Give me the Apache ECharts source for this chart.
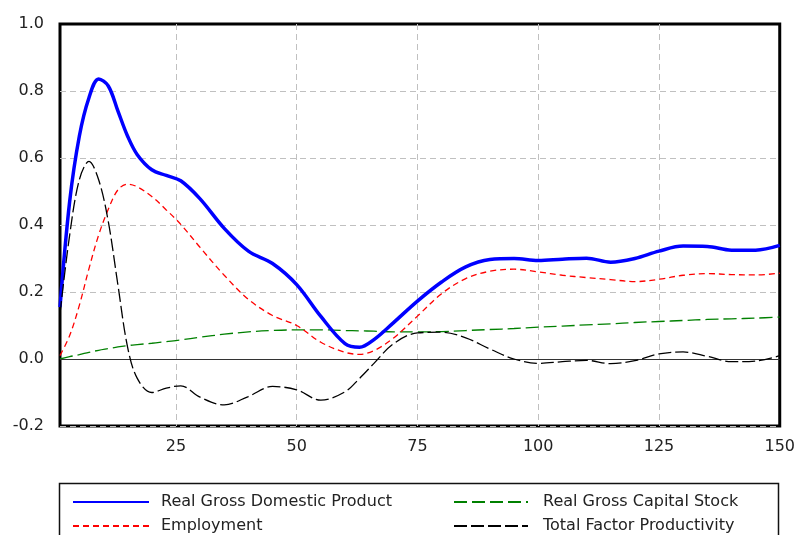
<!DOCTYPE html>
<html>
<head>
<meta charset="utf-8">
<script src="https://cdn.jsdelivr.net/npm/echarts@6/dist/echarts.min.js"></script>
<style>
html,body{margin:0;padding:0;background:#fff;}
#chart{width:798px;height:535px;}
</style>
</head>
<body>
<div id="chart"></div>
<script>
const time = [1,3,5,7,9,11,13,15,17,20,23,26,30,35,40,45,50,55,60,63,66,70,75,80,85,90,95,100,105,110,115,120,125,130,135,140,145,150];
const gdp = [0.155,0.47,0.665,0.78,0.836,0.815,0.74,0.665,0.61,0.565,0.548,0.532,0.478,0.39,0.322,0.285,0.222,0.127,0.046,0.035,0.058,0.108,0.173,0.23,0.275,0.297,0.300,0.294,0.298,0.301,0.289,0.300,0.322,0.337,0.336,0.325,0.325,0.339];
const employment = [0.01,0.07,0.16,0.27,0.37,0.447,0.505,0.522,0.514,0.485,0.445,0.402,0.333,0.25,0.178,0.13,0.1,0.05,0.02,0.014,0.025,0.062,0.128,0.195,0.24,0.262,0.268,0.26,0.25,0.243,0.237,0.231,0.238,0.25,0.255,0.252,0.251,0.256];
const capital = [0,0.007,0.013,0.02,0.026,0.031,0.036,0.04,0.043,0.047,0.052,0.057,0.065,0.074,0.081,0.085,0.087,0.087,0.085,0.084,0.083,0.081,0.081,0.082,0.085,0.088,0.091,0.095,0.098,0.102,0.105,0.109,0.112,0.115,0.118,0.12,0.122,0.125];
const tfp = [0.135,0.37,0.535,0.59,0.535,0.41,0.22,0.035,-0.058,-0.1,-0.087,-0.08,-0.114,-0.137,-0.112,-0.082,-0.092,-0.123,-0.098,-0.058,-0.013,0.045,0.078,0.08,0.063,0.03,0.0,-0.013,-0.008,-0.004,-0.014,-0.005,0.015,0.021,0.008,-0.008,-0.006,0.01];
const xTicks = [25,50,75,100,125,150];
const names = ['Real Gross Domestic Product','Employment','Real Gross Capital Stock','Total Factor Productivity'];

const pairs = arr => time.map((t,i)=>[t, arr[i]]);
const font = 'DejaVu Sans';
const legendItemStyle = {color:'rgba(0,0,0,0)',borderColor:'rgba(0,0,0,0)',borderWidth:0,opacity:0};
const chart = echarts.init(document.getElementById('chart'), null, {renderer:'canvas'});
chart.setOption({
  animation:false,
  backgroundColor:'#fff',
  grid:{left:60,right:18,top:24,bottom:109,show:true,borderColor:'#000',borderWidth:3,backgroundColor:'transparent'},
  xAxis:{
    type:'value',min:1,max:150,
    axisLine:{show:false},
    axisTick:{show:false,customValues:xTicks},
    axisLabel:{customValues:xTicks,fontFamily:font,fontSize:16,color:'#222',margin:13},
    splitLine:{show:true,showMaxLine:false,lineStyle:{color:'#c0c0c0',type:[6,4],width:1}}
  },
  yAxis:{
    type:'value',min:-0.2,max:1.0,interval:0.2,
    axisLine:{show:false},axisTick:{show:false},
    axisLabel:{fontFamily:font,fontSize:16,color:'#222',margin:16,formatter:v=>v.toFixed(1)},
    splitLine:{show:true,showMaxLine:false,lineStyle:{color:'#c0c0c0',type:[6,4],width:1}}
  },
  legend:[
    {left:72,top:494,orient:'vertical',padding:0,itemWidth:76,itemHeight:14,itemGap:8,selectedMode:false,
     itemStyle:legendItemStyle,
     data:[names[0],names[1]],textStyle:{fontFamily:font,fontSize:16,color:'#222',padding:[0,0,0,7]}},
    {left:453,top:494,orient:'vertical',padding:0,itemWidth:74,itemHeight:14,itemGap:8,selectedMode:false,
     itemStyle:legendItemStyle,
     data:[names[2],names[3]],textStyle:{fontFamily:font,fontSize:16,color:'#222',padding:[0,0,0,10]}}
  ],
  graphic:[{type:'rect',silent:true,shape:{x:59.5,y:483.5,width:719,height:70},style:{fill:'none',stroke:'#111',lineWidth:1.5}}],
  series:[
    {name:names[2],type:'line',data:pairs(capital),symbol:'none',smooth:0.35,z:3,
     lineStyle:{color:'#008000',width:1.3,type:[13,5]},itemStyle:{color:'#008000'},
     markLine:{silent:true,symbol:'none',label:{show:false},lineStyle:{color:'#333',width:1,type:'solid'},data:[{yAxis:0}]}},
    {name:names[1],type:'line',data:pairs(employment),symbol:'none',smooth:0.35,z:4,
     lineStyle:{color:'#ff0000',width:1.3,type:[6,4]},itemStyle:{color:'#ff0000'}},
    {name:names[0],type:'line',data:pairs(gdp),symbol:'none',smooth:0.35,z:5,
     lineStyle:{color:'#0000ff',width:3.5},itemStyle:{color:'#0000ff'}},
    {name:names[3],type:'line',data:pairs(tfp),symbol:'none',smooth:0.35,z:6,
     lineStyle:{color:'#000',width:1.3,type:[13,4]},itemStyle:{color:'#000'}}
  ]
});
</script>
</body>
</html>
